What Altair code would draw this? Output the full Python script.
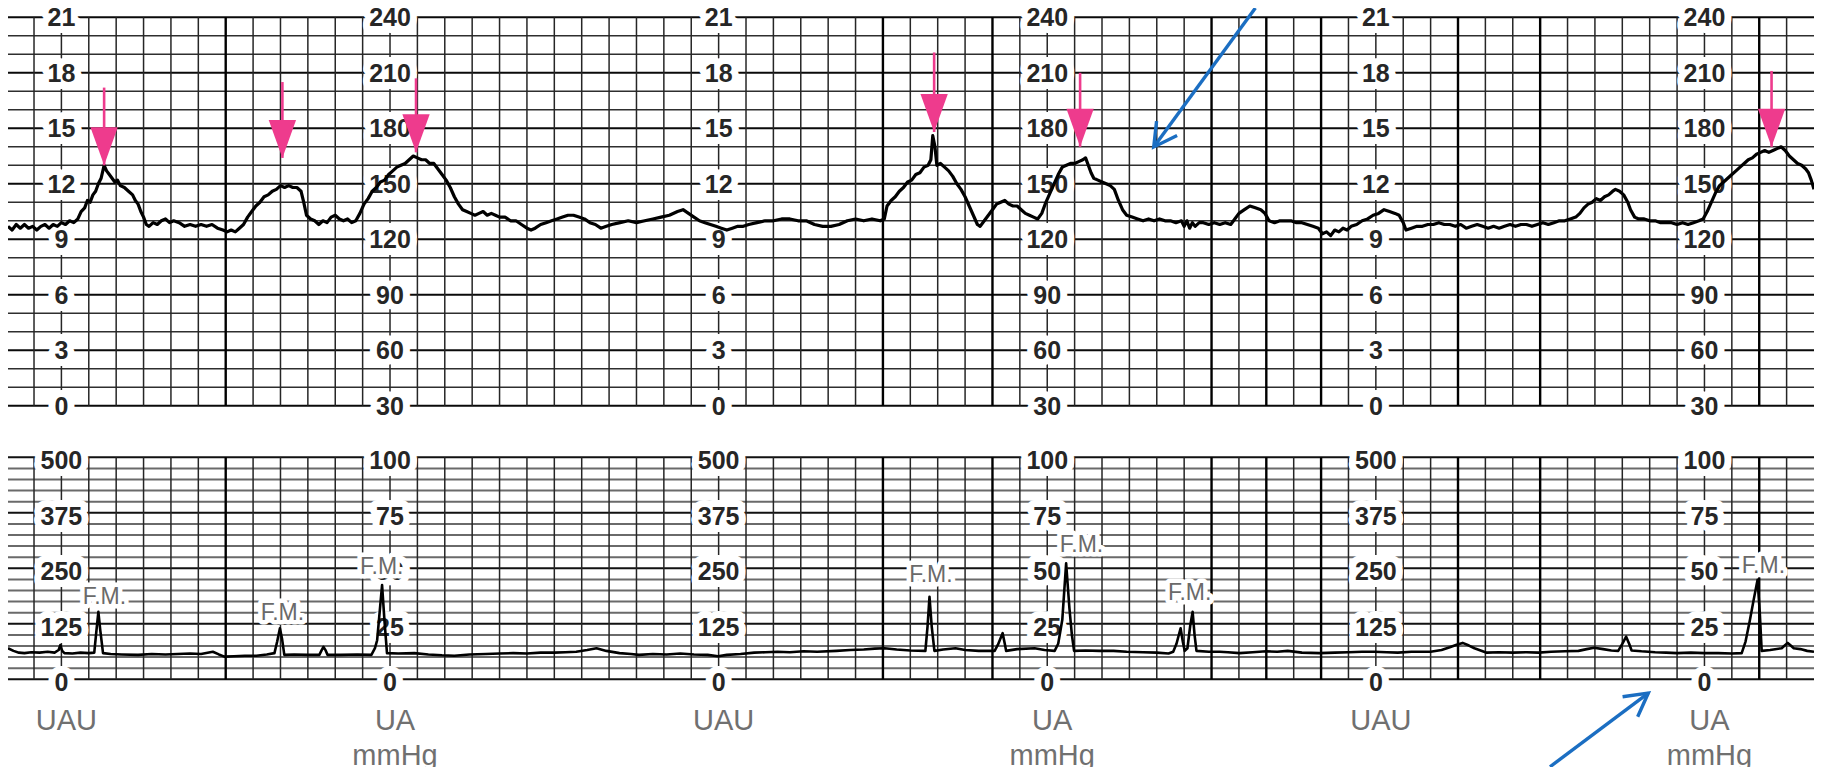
import altair as alt
import pandas as pd

# ---------------- chart values ----------------
# x is measured in small chart divisions (one vertical grid square = 1)
K_MIN, K_MAX = -1.95, 64.0
HR_MIN, HR_MAX = 30, 240          # FHR panel (bpm)
UA_MIN, UA_MAX = 0, 500           # uterine activity panel (UAU)

# fetal heart rate trace (division, bpm)
fhr_points = [
    (-1.95,127),(-1.8,125),(-1.65,128),(-1.5,126),(-1.35,128),(-1.2,126),(-1.05,127),(-0.9,125),
    (-0.75,127),(-0.6,128),(-0.45,126),(-0.3,128),(-0.15,127),(0.0,129),(0.15,128),(0.3,130),
    (0.45,129),(0.6,131),(0.72,135),(0.85,137),(0.95,141),(1.05,140),(1.15,144),(1.25,146),
    (1.35,150),(1.45,153),(1.56,160),(1.65,157),(1.75,155),(1.85,153),(1.95,151),(2.05,152),
    (2.15,149),(2.3,148),(2.45,146),(2.6,144),(2.7,141),(2.8,139),(2.9,135),(3.0,132),(3.1,128),
    (3.2,127),(3.35,129),(3.5,128),(3.65,130),(3.8,131),(3.95,129),(4.1,130),(4.3,129),(4.5,127),
    (4.7,128),(4.9,127),(5.1,128),(5.3,127),(5.5,128),(5.7,126),(5.9,125),(6.05,124),(6.2,125),
    (6.35,124),(6.5,126),(6.65,128),(6.8,132),(6.95,135),(7.1,138),(7.25,140),(7.4,143),(7.55,144),
    (7.7,146),(7.85,147),(8.0,149),(8.15,148),(8.3,149),(8.45,148),(8.6,148),(8.75,146),(8.85,140),
    (8.95,133),(9.1,131),(9.25,130),(9.4,128),(9.55,130),(9.7,129),(9.85,132),(10.0,133),(10.15,131),
    (10.3,130),(10.45,131),(10.6,129),(10.75,130),(10.9,134),(11.05,139),(11.2,142),(11.35,146),
    (11.5,148),(11.65,151),(11.8,152),(11.95,155),(12.1,157),(12.25,159),(12.4,160),(12.55,161),
    (12.7,163),(12.85,165),(13.0,164),(13.15,163),(13.3,163),(13.45,161),(13.6,161),(13.75,158),
    (13.9,155),(14.05,152),(14.2,148),(14.35,143),(14.5,139),(14.65,136),(14.8,135),(14.95,134),
    (15.1,133),(15.25,134),(15.4,135),(15.55,133),(15.7,134),(15.85,133),(16.0,132),(16.2,132),
    (16.4,130),(16.6,130),(16.8,128),(17.0,126),(17.15,125),(17.3,126),(17.5,128),(17.7,129),
    (17.9,130),(18.1,131),(18.3,132),(18.5,133),(18.7,133),(18.9,132),(19.1,131),(19.3,129),
    (19.5,128),(19.7,126),(19.9,127),(20.1,128),(20.4,129),(20.7,130),(21.0,129),(21.3,130),
    (21.6,131),(21.9,132),(22.2,133),(22.5,135),(22.7,136),(22.9,134),(23.1,132),(23.3,130),
    (23.5,129),(23.7,128),(23.9,127),(24.1,126),(24.3,125),(24.5,126),(24.7,127),(24.9,127),
    (25.1,128),(25.4,129),(25.7,130),(26.0,130),(26.3,131),(26.6,131),(26.9,130),(27.2,130),
    (27.5,128),(27.8,127),(28.1,127),(28.4,128),(28.7,130),(29.0,131),(29.3,130),(29.6,131),
    (29.9,130),(30.05,131),(30.15,138),(30.3,141),(30.45,143),(30.6,146),(30.75,148),(30.9,151),
    (31.05,152),(31.2,155),(31.35,156),(31.5,159),(31.65,160),(31.75,163),(31.82,176),(31.9,170),
    (31.97,160),(32.1,161),(32.25,159),(32.4,157),(32.55,154),(32.7,150),(32.85,147),(33.0,143),
    (33.15,138),(33.3,133),(33.45,128),(33.55,127),(33.7,130),(33.85,133),(34.0,136),(34.15,139),
    (34.3,140),(34.45,141),(34.6,139),(34.75,138),(34.9,138),(35.05,136),(35.2,134),(35.35,133),
    (35.5,132),(35.65,131),(35.8,134),(35.95,140),(36.1,145),(36.25,150),(36.4,155),(36.55,159),
    (36.7,160),(36.85,161),(37.0,161),(37.15,162),(37.3,163),(37.4,164),(37.5,160),(37.6,156),
    (37.7,153),(37.85,152),(38.0,151),(38.15,150),(38.3,149),(38.45,147),(38.6,141),(38.75,136),
    (38.9,133),(39.1,132),(39.3,131),(39.5,130),(39.7,131),(39.9,130),(40.1,131),(40.3,130),
    (40.5,130),(40.7,129),(40.9,130),(41.0,127),(41.1,130),(41.2,126),(41.3,129),(41.4,127),
    (41.55,129),(41.7,129),(41.9,128),(42.1,129),(42.3,128),(42.5,129),(42.7,128),(42.85,131),
    (43.0,134),(43.2,136),(43.4,138),(43.6,137),(43.8,136),(43.95,134),(44.1,130),(44.3,129),
    (44.5,130),(44.7,130),(44.9,130),(45.1,129),(45.3,129),(45.5,128),(45.7,127),(45.9,126),
    (46.05,123),(46.2,124),(46.35,122),(46.5,125),(46.65,124),(46.8,126),(46.95,125),(47.1,127),
    (47.3,128),(47.5,130),(47.7,131),(47.9,133),(48.1,134),(48.3,136),(48.5,135),(48.7,134),
    (48.85,133),(49.0,129),(49.1,125),(49.3,126),(49.5,127),(49.7,127),(49.9,128),(50.1,128),
    (50.3,129),(50.5,128),(50.7,128),(50.9,127),(51.1,128),(51.3,126),(51.5,127),(51.7,128),
    (51.9,127),(52.1,126),(52.3,127),(52.5,126),(52.7,127),(52.9,128),(53.1,127),(53.3,128),
    (53.5,128),(53.7,127),(53.9,128),(54.1,129),(54.3,128),(54.5,129),(54.7,130),(54.9,130),
    (55.1,131),(55.3,132),(55.45,134),(55.6,137),(55.75,139),(55.9,140),(56.05,142),(56.2,141),
    (56.35,143),(56.5,144),(56.65,146),(56.75,147),(56.9,146),(57.05,144),(57.2,140),(57.3,136),
    (57.45,132),(57.6,131),(57.8,131),(58.0,130),(58.2,130),(58.4,129),(58.6,129),(58.8,129),
    (59.0,128),(59.2,129),(59.4,128),(59.6,129),(59.8,130),(59.95,131),(60.1,135),(60.25,140),
    (60.4,145),(60.55,149),(60.7,151),(60.85,153),(61.0,155),(61.15,157),(61.3,159),(61.45,161),
    (61.6,163),(61.75,164),(61.9,166),(62.05,167),(62.2,168),(62.35,167),(62.5,168),(62.65,169),
    (62.8,170),(62.95,168),(63.1,165),(63.25,163),(63.4,161),(63.55,160),(63.7,158),(63.8,156),
    (63.9,152),(64.0,147),
]

# uterine activity trace (division, UAU)
ua_points = [
    (-1.95,70),(-1.75,64),(-1.55,60),(-1.35,59),(-1.1,61),(-0.8,60),(-0.5,62),(-0.25,60),(-0.1,66),
    (-0.04,77),(0.03,64),(0.11,59),(0.4,58),(0.7,60),(1.0,59),(1.2,60),(1.28,110),(1.35,152),
    (1.42,110),(1.52,59),(1.8,57),(2.2,56),(2.8,55),(3.3,57),(3.8,56),(4.24,57),(4.7,58),(5.1,57),
    (5.53,62),(5.75,56),(5.95,51),(6.3,52),(6.7,53),(7.12,53),(7.5,56),(7.78,59),(7.88,85),(7.98,115),
    (8.06,90),(8.14,55),(8.5,56),(9.0,55),(9.42,55),(9.5,65),(9.57,73),(9.65,65),(9.72,55),(10.2,55),
    (10.8,56),(11.32,55),(11.45,70),(11.53,88),(11.62,150),(11.71,212),(11.8,130),(11.89,59),(12.3,58),
    (12.89,59),(13.4,56),(13.9,54),(14.35,53),(14.9,56),(15.5,57),(16.0,58),(16.5,59),(17.0,58),
    (17.5,60),(18.0,60),(18.4,61),(18.8,62),(19.2,66),(19.54,70),(19.9,64),(20.38,59),(20.8,57),
    (21.09,55),(21.6,57),(22.1,56),(22.6,58),(23.1,56),(23.6,55),(23.98,52),(24.3,55),(24.8,57),
    (25.3,60),(25.7,61),(26.15,62),(26.6,61),(27.1,63),(27.6,62),(28.3,64),(28.8,66),(29.3,67),
    (29.7,69),(30.06,70),(30.5,67),(31.0,65),(31.55,64),(31.63,120),(31.7,186),(31.78,120),(31.88,64),
    (32.2,67),(32.65,70),(33.0,66),(33.5,64),(34.08,64),(34.2,78),(34.37,104),(34.45,80),(34.5,64),
    (34.9,68),(35.54,70),(35.9,66),(36.27,64),(36.4,80),(36.55,134),(36.69,261),(36.81,160),(36.9,100),
    (36.98,64),(37.4,65),(37.9,64),(38.42,64),(38.9,62),(39.5,61),(40.0,60),(40.43,58),(40.6,62),
    (40.72,80),(40.87,115),(40.95,85),(41.02,64),(41.12,70),(41.22,120),(41.31,152),(41.38,100),
    (41.45,64),(41.9,62),(42.3,62),(42.6,61),(43.02,59),(43.5,61),(44.0,63),(44.4,62),(44.78,64),
    (45.3,60),(45.95,59),(46.5,60),(47.0,61),(47.5,62),(47.95,62),(48.4,61),(48.8,60),(49.3,62),
    (49.7,62),(50.0,62),(50.4,66),(50.7,72),(50.95,78),(51.17,82),(51.4,76),(51.6,70),(52.05,60),
    (52.5,61),(53.0,60),(53.5,61),(53.94,60),(54.4,62),(54.9,63),(55.4,64),(55.7,68),(55.97,71),
    (56.3,68),(56.6,65),(56.85,64),(57.0,80),(57.14,96),(57.25,80),(57.34,65),(57.7,63),(58.2,61),
    (58.6,60),(59.0,59),(59.5,60),(60.0,59),(60.5,59),(61.0,58),(61.36,59),(61.5,85),(61.65,130),
    (61.8,180),(61.94,224),(62.02,150),(62.09,64),(62.4,66),(62.82,70),(62.93,76),(63.04,82),
    (63.15,76),(63.26,70),(63.5,68),(63.75,64),(64.0,62),
]

# scale labels printed on the paper
hr_label_bpm = [30, 60, 90, 120, 150, 180, 210, 240]
hr_left_text = ["0", "3", "6", "9", "12", "15", "18", "21"]
hr_right_text = ["30", "60", "90", "120", "150", "180", "210", "240"]
ua_label_val = [0, 125, 250, 375, 500]
ua_left_text = ["0", "125", "250", "375", "500"]
ua_right_text = ["0", "25", "50", "75", "100"]
left_cols = [0, 24, 48]
right_cols = [12, 36, 60]

# paper grid
grid_k = list(range(-1, 64))
dark_k = [6, 30, 34, 42, 44, 46, 51, 54, 62]
hr_grid = list(range(30, 241, 10))
ua_grid = list(range(0, 501, 25))

# fetal movement marks
fm_k = [1.57, 8.07, 11.7, 31.75, 37.25, 41.2, 62.15]
fm_val = [185, 150, 252, 234, 302, 195, 255]

# pink arrows (acceleration peaks)
pink_k = [1.56, 8.07, 12.95, 31.87, 37.2, 62.45]
pink_top = [202, 205, 207, 221, 210, 211]
pink_tip = [160, 164, 167, 178, 170, 170]

# blue pointer arrows
blue_top_tail = (43.6, 245.0)
blue_top_tip = (39.89, 169.9)
blue_bot_tail = (54.36, -197.0)
blue_bot_tip = (57.95, -31.0)

# channel names under the paper
unit_left = ["UAU"]
unit_right = ["UA", "mmHg"]
unit_row_val = [-114, -193]

# ---------------- layout / style ----------------
W, H = 1806, 742
TOP_RANGE = [388.5, 0]
BOT_RANGE = [662.0, 440.0]
FONT = "Liberation Sans"
PINK = "#EE3B8D"
BLUE = "#1B6EC2"

xsc = alt.Scale(domain=[K_MIN, K_MAX], nice=False, zero=False)


def X(f):
    return alt.X(f, type="quantitative", scale=xsc, axis=None)


def Y(f, panel):
    if panel == "top":
        sc = alt.Scale(domain=[HR_MIN, HR_MAX], range=TOP_RANGE, nice=False, zero=False)
    else:
        sc = alt.Scale(domain=[UA_MIN, UA_MAX], range=BOT_RANGE, nice=False, zero=False)
    return alt.Y(f, type="quantitative", scale=sc, axis=None)


layers = []

# horizontal grid lines
top_h = pd.DataFrame({"v": hr_grid, "x0": K_MIN, "x1": K_MAX})
top_h["major"] = (top_h["v"] - HR_MIN) % 30 == 0
bot_h = pd.DataFrame({"v": ua_grid, "x0": K_MIN, "x1": K_MAX})
bot_h["major"] = bot_h["v"] % 125 == 0

layers.append(alt.Chart(top_h[~top_h.major]).mark_rule(color="#2e2e2e", strokeWidth=1.6).encode(
    x=X("x0"), x2="x1", y=Y("v", "top")))
layers.append(alt.Chart(top_h[top_h.major]).mark_rule(color="#0a0a0a", strokeWidth=2.0).encode(
    x=X("x0"), x2="x1", y=Y("v", "top")))
layers.append(alt.Chart(bot_h[~bot_h.major]).mark_rule(color="#6a6a6a", strokeWidth=2.0).encode(
    x=X("x0"), x2="x1", y=Y("v", "bot")))
layers.append(alt.Chart(bot_h[bot_h.major]).mark_rule(color="#111111", strokeWidth=2.0).encode(
    x=X("x0"), x2="x1", y=Y("v", "bot")))

# vertical grid lines
vg = pd.DataFrame({"k": grid_k})
vg["dark"] = vg["k"].isin(dark_k)
for panel, lo, hi in (("top", HR_MIN, HR_MAX), ("bot", UA_MIN, UA_MAX)):
    d = vg.assign(y0=lo, y1=hi)
    layers.append(alt.Chart(d[~d.dark]).mark_rule(color="#262626", strokeWidth=1.5).encode(
        x=X("k"), y=Y("y0", panel), y2="y1"))
    layers.append(alt.Chart(d[d.dark]).mark_rule(color="#000000", strokeWidth=2.4).encode(
        x=X("k"), y=Y("y0", panel), y2="y1"))

# scale labels with white paper gap around them
rows = []
for c in left_cols:
    rows += [dict(k=c, v=v, t=t, p="top") for v, t in zip(hr_label_bpm, hr_left_text)]
    rows += [dict(k=c, v=v, t=t, p="bot") for v, t in zip(ua_label_val, ua_left_text)]
for c in right_cols:
    rows += [dict(k=c, v=v, t=t, p="top") for v, t in zip(hr_label_bpm, hr_right_text)]
    rows += [dict(k=c, v=v, t=t, p="bot") for v, t in zip(ua_label_val, ua_right_text)]
lab = pd.DataFrame(rows)
for panel, dy in (("top", 1), ("bot", 4)):
    d = lab[lab.p == panel]
    layers.append(alt.Chart(d).mark_text(font=FONT, fontSize=25, fontWeight="bold", color="white",
                                         stroke="white", strokeWidth=14, strokeJoin="round", dy=dy,
                                         baseline="middle", align="center").encode(
        x=X("k"), y=Y("v", panel), text="t:N"))
    layers.append(alt.Chart(d).mark_text(font=FONT, fontSize=25, fontWeight="bold", color="#262626",
                                         dy=dy, baseline="middle", align="center").encode(
        x=X("k"), y=Y("v", panel), text="t:N"))

# F.M. labels
fm = pd.DataFrame({"k": fm_k, "v": fm_val, "t": "F.M."})
layers.append(alt.Chart(fm).mark_text(font=FONT, fontSize=23, color="white", stroke="white",
                                      strokeWidth=9, strokeJoin="round", baseline="middle").encode(
    x=X("k"), y=Y("v", "bot"), text="t:N"))
layers.append(alt.Chart(fm).mark_text(font=FONT, fontSize=23, color="#6a6a6a", baseline="middle").encode(
    x=X("k"), y=Y("v", "bot"), text="t:N"))

# traces
fhr = pd.DataFrame(fhr_points, columns=["k", "v"]).reset_index()
ua = pd.DataFrame(ua_points, columns=["k", "v"]).reset_index()
layers.append(alt.Chart(fhr).mark_line(color="black", strokeWidth=3.2, strokeJoin="round").encode(
    x=X("k"), y=Y("v", "top"), order="index:Q"))
layers.append(alt.Chart(ua).mark_line(color="black", strokeWidth=2.6, strokeJoin="round").encode(
    x=X("k"), y=Y("v", "bot"), order="index:Q"))

# pink arrows
pk = pd.DataFrame({"k": pink_k, "top": pink_top, "tip": pink_tip})
layers.append(alt.Chart(pk).mark_rule(color=PINK, strokeWidth=2.6).encode(
    x=X("k"), y=Y("top", "top"), y2="tip"))
layers.append(alt.Chart(pk).mark_point(shape="M -0.72 -2 L 0.72 -2 L 0 0 Z", size=1444, filled=True,
                                       color=PINK, opacity=1, strokeWidth=0).encode(
    x=X("k"), y=Y("tip", "top")))

# blue pointer arrows
for panel, tail, tip, ang in (("top", blue_top_tail, blue_top_tip, 215),
                              ("bot", blue_bot_tail, blue_bot_tip, 53)):
    d = pd.DataFrame({"k0": [tail[0]], "v0": [tail[1]], "k1": [tip[0]], "v1": [tip[1]]})
    layers.append(alt.Chart(d).mark_rule(color=BLUE, strokeWidth=3.4).encode(
        x=X("k0"), y=Y("v0", panel), x2="k1", y2="v1"))
    layers.append(alt.Chart(d).mark_point(shape="M -0.55 1 L 0 0 L 0.55 1", size=2077, filled=False,
                                          color=BLUE, opacity=1, strokeWidth=3.4, angle=ang,
                                          strokeJoin="miter").encode(
        x=X("k1"), y=Y("v1", panel)))

# channel names below the paper
urows = [dict(k=c, v=unit_row_val[0], t=unit_left[0]) for c in left_cols]
for c in right_cols:
    urows += [dict(k=c, v=v, t=t) for v, t in zip(unit_row_val, unit_right)]
un = pd.DataFrame(urows)
layers.append(alt.Chart(un).mark_text(font=FONT, fontSize=29, color="#707070", dx=5,
                                      baseline="alphabetic", align="center").encode(
    x=X("k"), y=Y("v", "bot"), text="t:N"))

chart = alt.layer(*layers).resolve_scale(y="independent").properties(
    width=W, height=H,
    padding={"left": 0, "top": 9.3, "right": 0, "bottom": 8},
    autosize=alt.AutoSizeParams(type="none"),
    background="white",
).configure_view(strokeOpacity=0)

chart.save("out.html", embed_options={"renderer": "svg", "actions": False})
